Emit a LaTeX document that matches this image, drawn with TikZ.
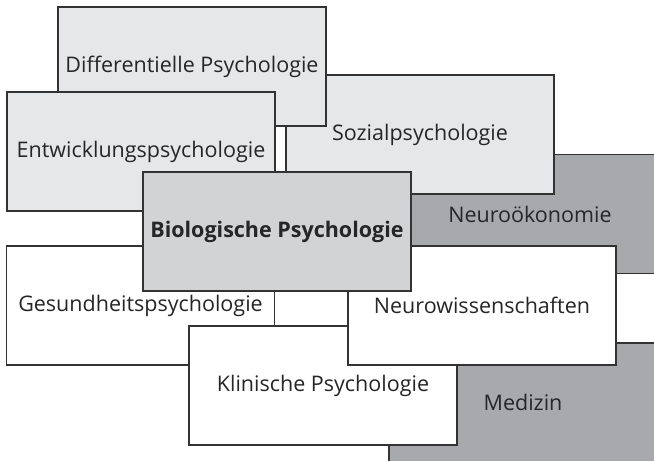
\documentclass[tikz,border=0pt]{standalone}
\usepackage{fontspec}
\setmainfont{Open Sans}
\definecolor{boxline}{HTML}{333333}
\definecolor{pale}{HTML}{E6E7E8}
\definecolor{mid}{HTML}{D1D3D4}
\definecolor{dark}{HTML}{A7A9AC}
\tikzset{field/.style={%
        rectangle,
        minimum width=268pt,minimum height=119pt,
        anchor=center,
        line width=1.2pt,
        font=\fontsize{21.5}{24}\selectfont,
        text=black!85,
        draw=boxline}}
\tikzset{palefield/.style={field,fill=pale}}
\tikzset{darkfield/.style={field,fill=dark}}
\tikzset{whitefield/.style={field,fill=white}}

\begin{document}
\begin{tikzpicture}[x=1pt,y=-1pt]
  \useasboundingbox (0,0) rectangle (654,461);
  \clip (0,0) rectangle (654,461);
  \node [darkfield] (oek) at (530,214) {Neuroökonomie};
  \node [palefield] (sozial) at (420,134.5) {Sozialpsychologie};
  \node [palefield] (diff) at (192,66.5) {Differentielle Psychologie};
  \node [palefield] (entw) at (141,151.5) {Entwicklungspsychologie};
  \node [darkfield] (med) at (523,402.5) {Medizin};
  \node [whitefield] (gesund) at (140.5,305.5) {Gesundheitspsychologie};
  \node [whitefield] (klin) at (323,385.5) {Klinische Psychologie};
  \node [whitefield] (neuro) at (482,305.5) {Neurowissenschaften};
  \node [field,fill=mid,font=\fontsize{21.5}{24}\selectfont\bfseries] (bio) at (277,231.5) {Biologische Psychologie};
\end{tikzpicture}
\end{document}
